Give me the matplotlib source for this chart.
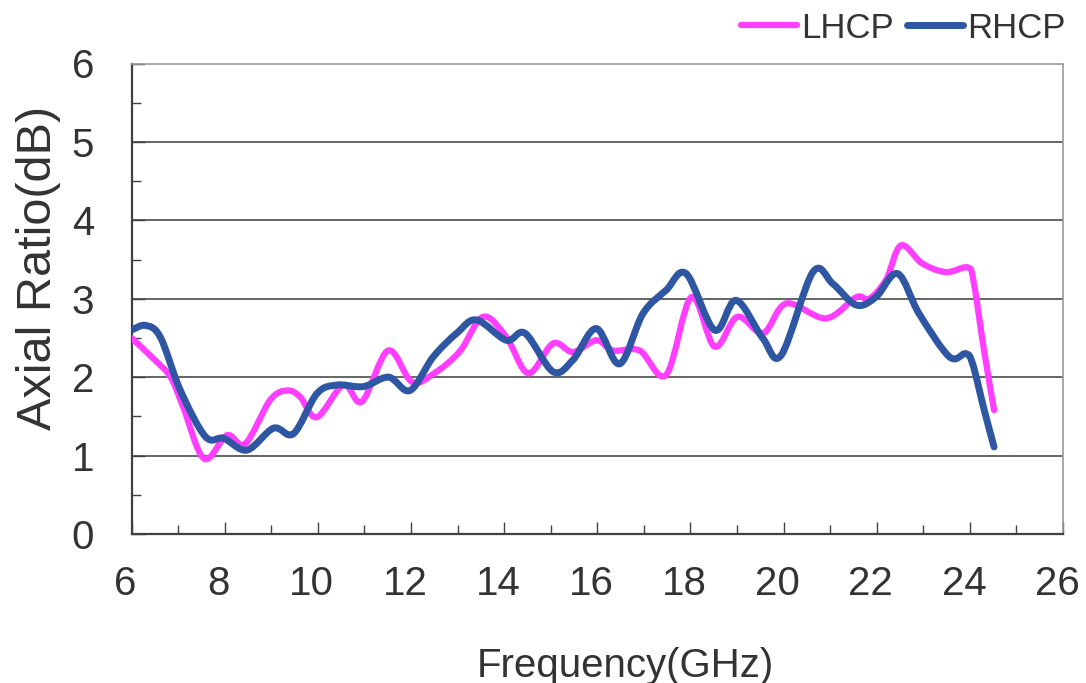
import numpy as np
import matplotlib
matplotlib.use("Agg")
import matplotlib.pyplot as plt
from matplotlib.path import Path
from matplotlib.patches import PathPatch
from matplotlib.lines import Line2D
from matplotlib.transforms import ScaledTranslation

plt.rcParams['font.family'] = ['Liberation Sans', 'DejaVu Sans']

# LHCP axial ratio
lhcp_freq = [6.0, 6.5, 6.84, 7.11, 7.56, 8.05, 8.44, 8.98, 9.34, 9.62, 9.98, 10.55, 10.95,
             11.51, 12.02, 12.5, 13.05, 13.55, 14.05, 14.52, 15.05, 15.48, 15.98, 16.34,
             16.91, 17.48, 18.02, 18.52, 19.01, 19.56, 20.06, 20.91, 21.56, 21.84, 22.2,
             22.52, 22.98, 23.49, 23.95, 24.08, 24.3, 24.52]
lhcp_ar = [2.50, 2.22, 2.0, 1.62, 0.96, 1.26, 1.15, 1.71, 1.83, 1.75, 1.49, 1.90, 1.69,
           2.34, 1.94, 2.05, 2.33, 2.77, 2.51, 2.05, 2.43, 2.32, 2.47, 2.34,
           2.34, 2.03, 3.02, 2.39, 2.77, 2.56, 2.94, 2.75, 3.02, 3.0, 3.24,
           3.68, 3.45, 3.34, 3.40, 3.22, 2.36, 1.58]

# RHCP axial ratio
rhcp_freq = [6.0, 6.3, 6.62, 7.05, 7.59, 7.98, 8.48, 9.05, 9.48, 9.98, 10.41, 10.98, 11.52,
             11.98, 12.48, 13.0, 13.41, 14.05, 14.45, 15.05, 15.48, 15.98, 16.48, 16.98,
             17.48, 17.91, 18.52, 18.98, 19.55, 19.95, 20.63, 21.06, 21.56, 21.98, 22.45,
             22.91, 23.56, 23.91, 24.06, 24.3, 24.52]
rhcp_ar = [2.60, 2.66, 2.51, 1.83, 1.24, 1.22, 1.07, 1.35, 1.28, 1.79, 1.90, 1.88, 2.00,
           1.83, 2.26, 2.57, 2.73, 2.47, 2.56, 2.07, 2.22, 2.62, 2.17, 2.81,
           3.11, 3.32, 2.60, 2.98, 2.50, 2.28, 3.34, 3.19, 2.92, 3.02, 3.32,
           2.81, 2.26, 2.30, 2.17, 1.60, 1.11]

x_ticks = [6, 8, 10, 12, 14, 16, 18, 20, 22, 24, 26]
y_ticks = [0, 1, 2, 3, 4, 5, 6]

lhcp_color = '#FF3EFF'
rhcp_color = '#2F56A3'
text_color = '#333333'


def smooth_path(x, y):
    # Excel-like smoothed line: Catmull-Rom segments as cubic Bezier curves
    pts = np.column_stack([x, y]).astype(float)
    n = len(pts)
    verts = [pts[0]]
    codes = [Path.MOVETO]
    for i in range(n - 1):
        p0 = pts[max(i - 1, 0)]
        p1 = pts[i]
        p2 = pts[i + 1]
        p3 = pts[min(i + 2, n - 1)]
        c1 = p1 + (p2 - p0) / 6.0
        c2 = p2 - (p3 - p1) / 6.0
        verts += [c1, c2, p2]
        codes += [Path.CURVE4] * 3
    return Path(verts, codes)


def main():
    fig = plt.figure(figsize=(10.86, 6.83), dpi=100)
    ax = fig.add_axes([131.5 / 1086, 1 - 534 / 683, 931.5 / 1086, 470.5 / 683])

    ax.set_xlim(6, 26)
    ax.set_ylim(0, 6)

    for yv in y_ticks[1:-1]:
        ax.axhline(yv, color='#3a3a3a', lw=1.1, zorder=1)

    ax.add_patch(PathPatch(smooth_path(lhcp_freq, lhcp_ar), fill=False,
                           edgecolor=lhcp_color, lw=4.5, capstyle='round',
                           joinstyle='round', zorder=3))
    ax.add_patch(PathPatch(smooth_path(rhcp_freq, rhcp_ar), fill=False,
                           edgecolor=rhcp_color, lw=5.0, capstyle='round',
                           joinstyle='round', zorder=4))

    ax.set_xticks(x_ticks)
    ax.set_yticks(y_ticks)
    ax.set_xticks(np.arange(7, 26, 2), minor=True)
    ax.set_yticks(np.arange(0.5, 6, 1), minor=True)
    ax.tick_params(which='major', direction='in', length=9, width=1.0,
                   color='#404040', labelsize=29, labelcolor=text_color)
    ax.tick_params(which='minor', direction='in', length=6.5, width=1.0,
                   color='#404040')
    ax.tick_params(axis='x', which='major', pad=22)
    ax.tick_params(axis='y', which='major', pad=27)

    offset = ScaledTranslation(-6 / 100, 0, fig.dpi_scale_trans)
    for lab in ax.get_xticklabels():
        lab.set_transform(lab.get_transform() + offset)

    for side in ['left', 'bottom']:
        ax.spines[side].set_color('#404040')
        ax.spines[side].set_linewidth(1.6)
    for side in ['top', 'right']:
        ax.spines[side].set_color('#9a9a9a')
        ax.spines[side].set_linewidth(1.2)

    ax.set_xlabel('Frequency(GHz)', fontsize=29, color=text_color)
    ax.xaxis.label.set_va('baseline')
    ax.xaxis.set_label_coords(0.53, -0.304)
    ax.set_ylabel('Axial Ratio(dB)', fontsize=35, color=text_color)
    ax.yaxis.label.set_va('baseline')
    ax.yaxis.set_label_coords(-0.086, 0.566)

    handles = [Line2D([], [], color=lhcp_color, lw=4.5, solid_capstyle='round'),
               Line2D([], [], color=rhcp_color, lw=5.0, solid_capstyle='round')]
    leg = fig.legend(handles, ['LHCP', 'RHCP'], loc='center right',
                     bbox_to_anchor=(0.981, 1 - 28 / 683), ncol=2, frameon=False,
                     fontsize=25, handlelength=1.6, handletextpad=0.12,
                     columnspacing=0.4, borderpad=0, borderaxespad=0)
    for t in leg.get_texts():
        t.set_color(text_color)

    fig.savefig('out.png', dpi=100)


if __name__ == "__main__":
    main()
